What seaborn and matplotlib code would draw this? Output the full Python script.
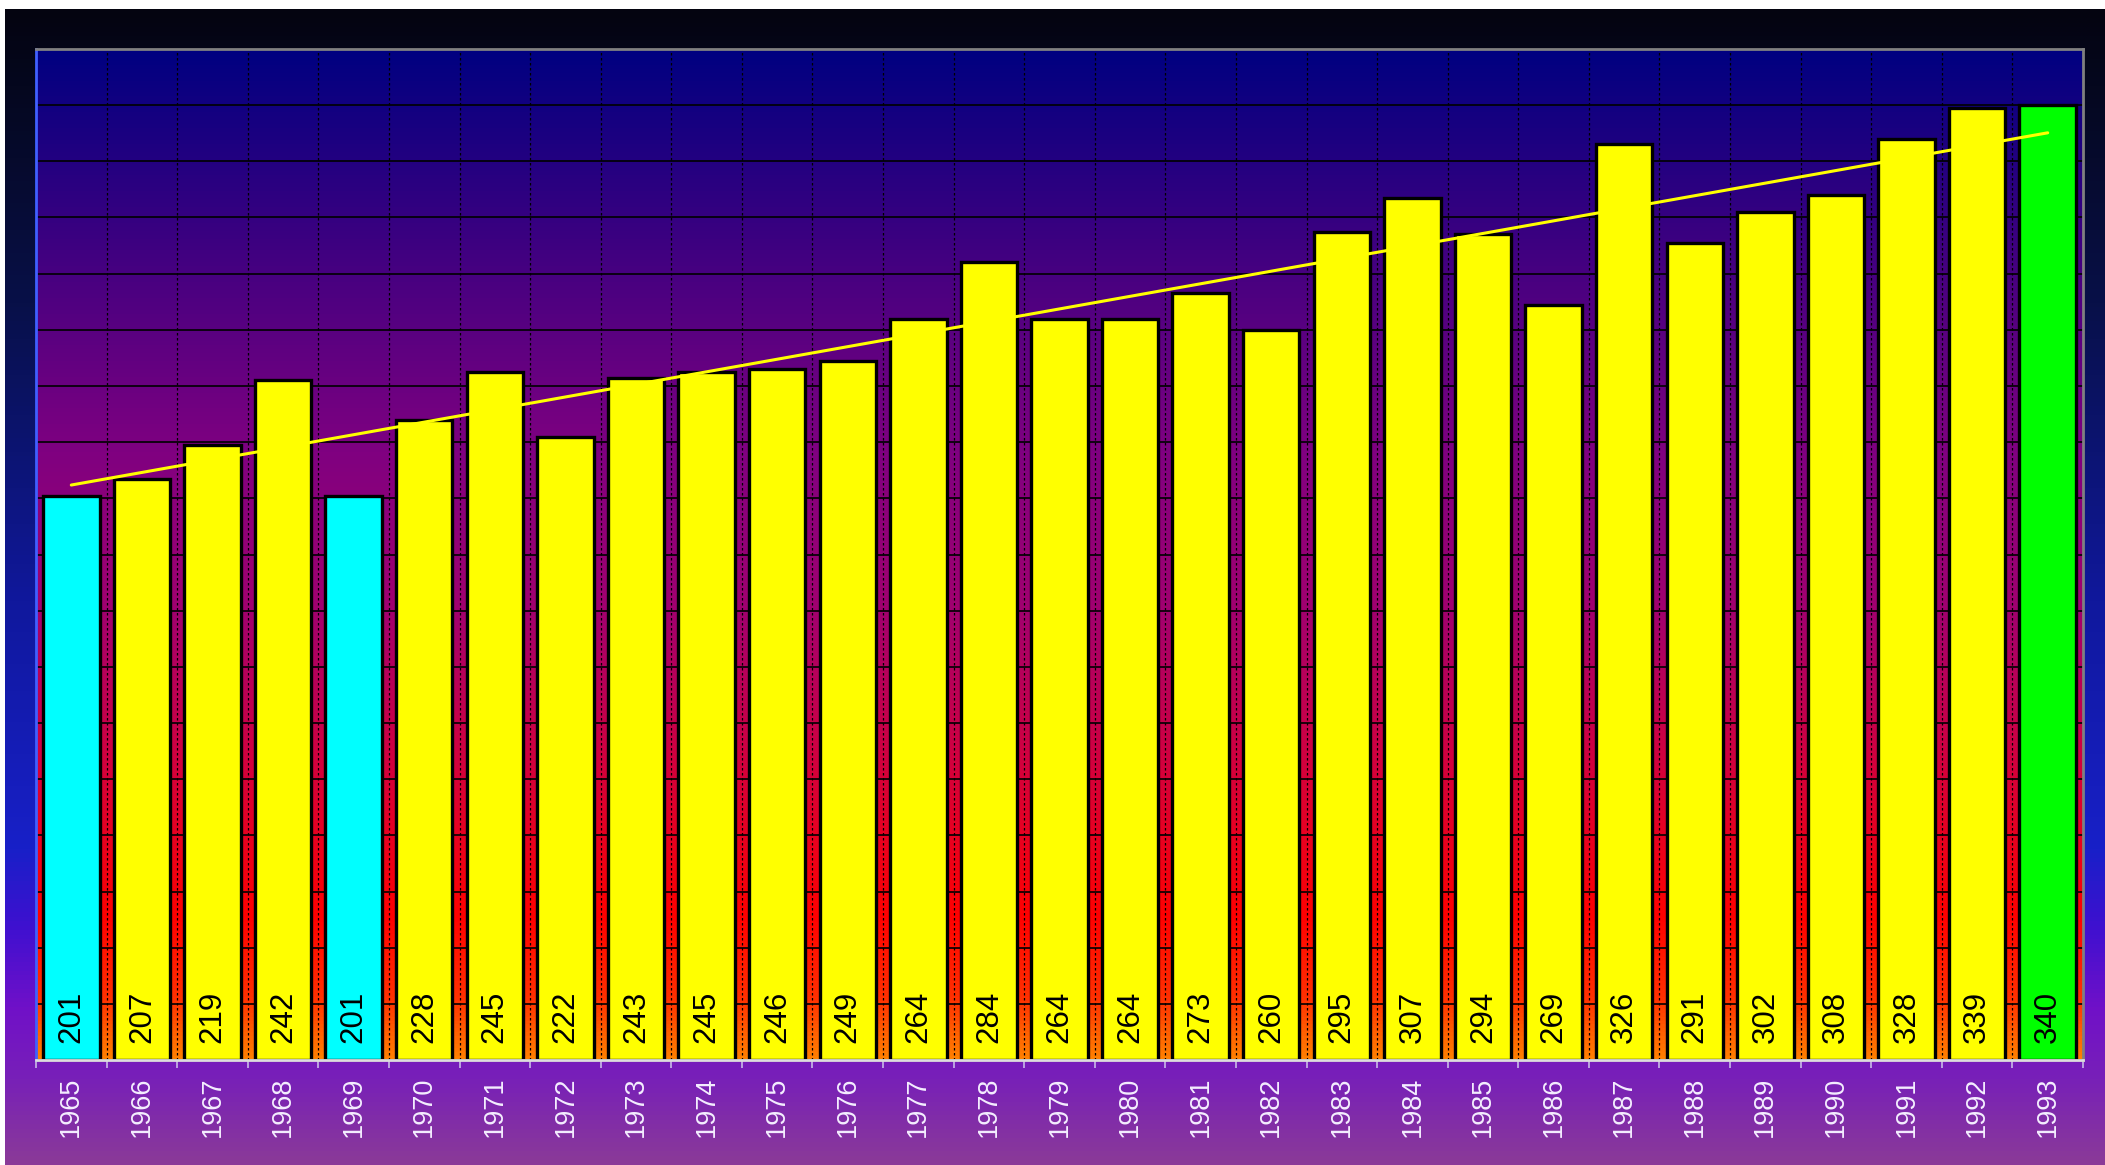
import numpy as np
import pandas as pd
import seaborn as sns
import matplotlib.pyplot as plt
from matplotlib import font_manager
from matplotlib.colors import LinearSegmentedColormap

years = [str(y) for y in range(1965, 1994)]
values = [201, 207, 219, 242, 201, 228, 245, 222, 243, 245, 246, 249, 264, 284, 264,
          264, 273, 260, 295, 307, 294, 269, 326, 291, 302, 308, 328, 339, 340]

df = pd.DataFrame({'year': years, 'value': values})

# min years cyan, max year green, rest yellow
colors = []
for v in values:
    if v == min(values):
        colors.append('#00ffff')
    elif v == max(values):
        colors.append('#00ff00')
    else:
        colors.append('#ffff00')

sns.set_theme(style='white')

# the reference text looks narrow, use the narrow face when it is there
installed = {f.name for f in font_manager.fontManager.ttflist}
if 'Liberation Sans Narrow' in installed:
    plt.rcParams['font.family'] = ['Liberation Sans Narrow', 'DejaVu Sans']
    val_size, year_size = 25, 20.5
else:
    plt.rcParams['font.family'] = ['Liberation Sans', 'DejaVu Sans']
    val_size, year_size = 22.5, 19.5

fig = plt.figure(figsize=(21.05, 11.65), dpi=100, facecolor='white')

# figure background gradient (black -> blue -> purple)
bg_cmap = LinearSegmentedColormap.from_list('bg', [
    (0.0, '#040410'), (0.252, '#081048'), (0.511, '#10189c'), (0.727, '#1820c8'),
    (0.797, '#4010d0'), (0.866, '#7010c8'), (0.926, '#7820b8'), (1.0, '#8a3a98')])
bg = fig.add_axes([5 / 2105, 0, 1 - 5 / 2105, 1156 / 1165], zorder=-10)
bg.imshow(np.linspace(0, 1, 256).reshape(-1, 1), cmap=bg_cmap, aspect='auto',
          extent=[0, 1, 0, 1], origin='upper')
bg.axis('off')

ax = fig.add_axes([36 / 2105, 105 / 1165, (2083 - 36) / 2105, (1060 - 49) / 1165])
ax.set_facecolor('none')

# plot area gradient (orange bottom -> red -> purple -> navy top)
pa_cmap = LinearSegmentedColormap.from_list('pa', [
    (0.0, '#ff8000'), (0.06, '#ff3000'), (0.14, '#ff0000'), (0.30, '#d00040'),
    (0.45, '#a00070'), (0.60, '#800080'), (1.0, '#000080')])
ax.imshow(np.linspace(0, 1, 256).reshape(-1, 1), cmap=pa_cmap, aspect='auto',
          extent=[-0.5, len(years) - 0.5, 0, 360], origin='lower', zorder=0)

sns.barplot(data=df, x='year', y='value', hue='year', palette=colors, legend=False,
            width=0.8, edgecolor='black', linewidth=2.4, saturation=1, ax=ax, zorder=1)

# linear trend
sns.regplot(x=np.arange(len(values)), y=np.array(values), scatter=False, ci=None,
            color='#ffff00', line_kws={'lw': 2.2, 'zorder': 3}, ax=ax)

for i, v in enumerate(values):
    ax.annotate(str(v), xy=(i, 0), xytext=(0, 12), textcoords='offset points',
                ha='center', va='bottom', rotation=90, fontsize=val_size, color='black', zorder=4)

ax.set_xlim(-0.5, len(years) - 0.5)
ax.set_ylim(0, 360)
ax.set_xlabel('')
ax.set_ylabel('')

ax.set_yticks(range(0, 361, 20))
ax.set_yticklabels([])
ax.tick_params(axis='y', length=0)

ax.set_xticks(range(len(years)))
ax.set_xticklabels(years, rotation=90, fontsize=year_size, color='#f4eeff')
ax.set_xticks(np.arange(-0.5, len(years), 1), minor=True)
ax.tick_params(axis='x', which='major', length=0, pad=12)
ax.tick_params(axis='x', which='minor', length=6, width=1.2, color='#c8b8e8', direction='out', bottom=True)

ax.set_axisbelow(True)
ax.grid(False)
ax.grid(which='major', axis='y', color='black', lw=1.2)
ax.grid(which='minor', axis='x', color='black', lw=0.9, ls=(0, (2, 2)))

for side in ['top', 'right']:
    ax.spines[side].set_color('#808080')
    ax.spines[side].set_linewidth(2)
ax.spines['left'].set_color('#4060ff')
ax.spines['left'].set_linewidth(2)
ax.spines['bottom'].set_color('#dddddd')
ax.spines['bottom'].set_linewidth(2)

plt.savefig('out.png', dpi=100, facecolor=fig.get_facecolor())
